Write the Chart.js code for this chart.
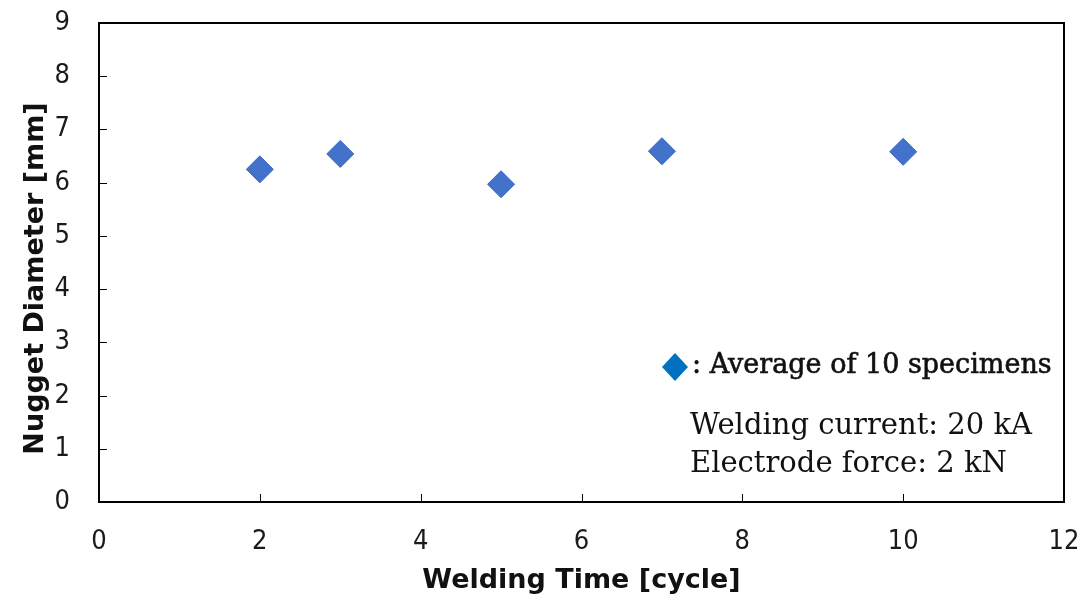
<!DOCTYPE html>
<html>
<head>
<meta charset="utf-8">
<script src="https://cdn.jsdelivr.net/npm/chart.js@4/dist/chart.umd.min.js"></script>
<style>
  html, body { margin: 0; padding: 0; background: #ffffff; }
  #wrap { width: 1084px; height: 602px; }
</style>
</head>
<body>
<div id="wrap"><canvas id="chart" width="1084" height="602"></canvas></div>
<script>
// Welding time (cycles) and measured nugget diameter (mm, average of 10 specimens)
const weldingTime = [2, 3, 5, 7, 10];
const nuggetDiameter = [6.25, 6.54, 5.97, 6.59, 6.58];

// Axis ranges and tick steps
const xRange = [0, 12];
const xStep = 2;
const yRange = [0, 9];
const yStep = 1;

// Text
const xTitle = 'Welding Time [cycle]';
const yTitle = 'Nugget Diameter [mm]';
const legendText = ': Average of 10 specimens';
const conditionLines = ['Welding current: 20 kA', 'Electrode force: 2 kN'];

const points = weldingTime.map((t, i) => ({ x: t, y: nuggetDiameter[i] }));

const tickFont = { family: '"Liberation Sans Narrow", "DejaVu Sans Condensed", Roboto, sans-serif', size: 27 };
const titleFamily = '"DejaVu Sans", "Liberation Sans", sans-serif';
const titleFont = { family: titleFamily, size: 27, weight: 'bold' };
const serif = '"DejaVu Serif", "Liberation Serif", serif';

// Invisible tick slots give the label gap without widening the layout margins
const hiddenGrid = (len) => ({
  display: true,
  drawOnChartArea: false,
  drawTicks: true,
  tickLength: len,
  color: 'rgba(0,0,0,0)'
});

// Frame around the plot area with short inward tick marks
const framePlugin = {
  id: 'frame',
  beforeDatasetsDraw(chart) {
    const { ctx, chartArea: a, scales } = chart;
    ctx.save();
    ctx.strokeStyle = '#000';
    ctx.lineWidth = 1;
    ctx.beginPath();
    scales.y.ticks.forEach(t => {
      const py = Math.round(scales.y.getPixelForValue(t.value)) + 0.5;
      ctx.moveTo(a.left, py);
      ctx.lineTo(a.left + 8, py);
    });
    scales.x.ticks.forEach(t => {
      const px = Math.round(scales.x.getPixelForValue(t.value)) + 0.5;
      ctx.moveTo(px, a.bottom);
      ctx.lineTo(px, a.bottom - 8);
    });
    ctx.stroke();
    ctx.lineWidth = 2;
    ctx.strokeRect(a.left, a.top, a.right - a.left, a.bottom - a.top);
    ctx.restore();
  }
};

// Vertical axis title, set a little below the plot's centre line
const yTitlePlugin = {
  id: 'yTitle',
  afterDraw(chart) {
    const { ctx, chartArea: a } = chart;
    ctx.save();
    ctx.translate(36, (a.top + a.bottom) / 2 + 16);
    ctx.rotate(-Math.PI / 2);
    ctx.font = 'bold 27px ' + titleFamily;
    ctx.fillStyle = '#111';
    ctx.textAlign = 'center';
    ctx.textBaseline = 'middle';
    ctx.fillText(yTitle, 0, 0);
    ctx.restore();
  }
};

// Marker key and test conditions inside the plot
const notePlugin = {
  id: 'notes',
  afterDraw(chart) {
    const { ctx, chartArea: a } = chart;
    ctx.save();
    const kx = a.right - 389, ky = a.bottom - 135;
    ctx.fillStyle = '#0070C0';
    ctx.beginPath();
    ctx.moveTo(kx, ky - 14);
    ctx.lineTo(kx + 13, ky);
    ctx.lineTo(kx, ky + 14);
    ctx.lineTo(kx - 13, ky);
    ctx.closePath();
    ctx.fill();

    ctx.fillStyle = '#111';
    ctx.strokeStyle = '#111';
    ctx.textBaseline = 'alphabetic';
    ctx.textAlign = 'left';
    ctx.font = '27px ' + serif;
    ctx.lineWidth = 0.6;
    ctx.fillText(legendText, kx + 17, ky + 6);
    ctx.strokeText(legendText, kx + 17, ky + 6);

    ctx.font = '29px ' + serif;
    ctx.fillText(conditionLines[0], a.right - 374, a.bottom - 68);
    ctx.fillText(conditionLines[1], a.right - 374, a.bottom - 30);
    ctx.restore();
  }
};

new Chart(document.getElementById('chart'), {
  type: 'scatter',
  data: {
    datasets: [{
      label: 'Average of 10 specimens',
      data: points,
      pointStyle: 'rectRot',
      pointRadius: 13.5,
      pointHoverRadius: 13.5,
      backgroundColor: '#4272CA',
      borderColor: '#3A68C2',
      borderWidth: 1
    }]
  },
  options: {
    responsive: false,
    animation: false,
    events: [],
    layout: { padding: { top: 23, right: 20, bottom: 0, left: 0 } },
    plugins: {
      legend: { display: false },
      tooltip: { enabled: false }
    },
    scales: {
      x: {
        type: 'linear',
        min: xRange[0],
        max: xRange[1],
        grid: hiddenGrid(21),
        border: { display: false },
        ticks: { stepSize: xStep, padding: 3, color: '#1a1a1a', font: tickFont, maxRotation: 0 },
        title: { display: true, text: xTitle, color: '#111', font: titleFont, padding: { top: 0, bottom: 5 } },
        afterFit(s) { s.height = 100; }
      },
      y: {
        type: 'linear',
        min: yRange[0],
        max: yRange[1],
        grid: hiddenGrid(26),
        border: { display: false },
        ticks: { stepSize: yStep, padding: 3, color: '#1a1a1a', font: tickFont },
        title: { display: false },
        afterFit(s) { s.width = 99; }
      }
    }
  },
  plugins: [framePlugin, yTitlePlugin, notePlugin]
});
</script>
</body>
</html>
